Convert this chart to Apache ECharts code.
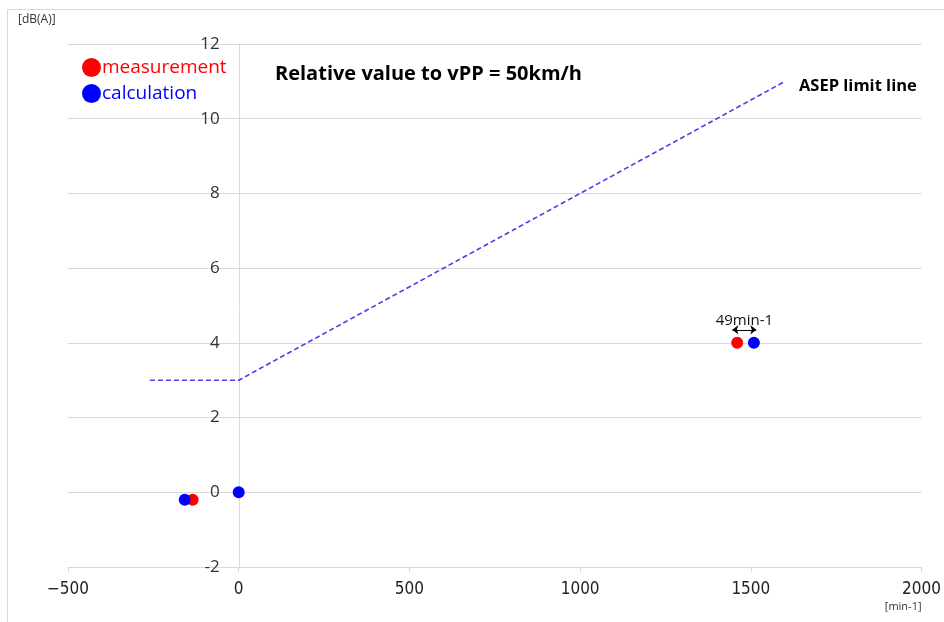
<!DOCTYPE html>
<html>
<head>
<meta charset="utf-8">
<script src="https://cdn.jsdelivr.net/npm/echarts@6/dist/echarts.min.js"></script>
<style>
  html, body { margin: 0; padding: 0; background: #fff; }
  #chart { width: 944px; height: 622px; }
</style>
</head>
<body>
<div id="chart"></div>
<script>
// values
const measurement = [[-135, -0.2], [1460, 4]]
const calculation = [[-158, -0.2], [0, 0], [1509, 4]]
const asepLimit = [[-260, 3], [0, 3], [1600, 11]]
const gapArrow = [[1446, 4.35], [1516, 4.35]]
const gapLabel = '49min-1'

const font = '"Open Sans", "Noto Sans", sans-serif'

let chart = echarts.init(document.getElementById('chart'), null, {renderer: 'canvas'})

chart.setOption({
    animation: false,
    textStyle: {fontFamily: font},
    title: {
        text: 'Relative value to vPP = 50km/h',
        left: 270, top: 59,
        textStyle: {fontSize: 20, fontWeight: 'bold', color: '#000', fontFamily: font}
    },
    legend: {
        orient: 'vertical',
        left: 77, top: 53,
        itemWidth: 19, itemHeight: 19, itemGap: 7,
        icon: 'circle',
        data: [
            {name: 'measurement', textStyle: {color: '#ff0000'}},
            {name: 'calculation', textStyle: {color: '#0000ff'}}
        ],
        textStyle: {fontSize: 19, fontFamily: font, padding: [0, 0, 0, -4]}
    },
    grid: {left: 68, right: 22, top: 44, bottom: 55},
    graphic: [
        {type: 'rect', shape: {x: 7.5, y: 9.5, width: 940, height: 620},
            style: {fill: 'none', stroke: '#d9d9d9', lineWidth: 1}, silent: true},
        {type: 'text', left: 18, top: 14,
            style: {text: '[dB(A)]', fontSize: 12, fill: '#333', fontFamily: font}}
    ],
    xAxis: {
        type: 'value', min: -500, max: 2000, interval: 500,
        name: '[min-1]', nameLocation: 'end',
        nameGap: 0,
        nameTextStyle: {fontSize: 11, color: '#333', align: 'right', verticalAlign: 'top', padding: [34, 0, 0, 0]},
        axisLine: {onZero: false, lineStyle: {color: '#d9d9d9'}},
        axisTick: {show: true, length: 5, lineStyle: {color: '#d9d9d9'}},
        axisLabel: {
            fontSize: 17, color: '#222', margin: 14,
            fontFamily: '"Liberation Sans Narrow", "DejaVu Sans Condensed", sans-serif',
            formatter: v => String(v).replace('-', '\u2212')
        },
        splitLine: {show: false}
    },
    yAxis: {
        type: 'value', min: -2, max: 12, interval: 2,
        offset: -170.8,
        axisLine: {show: true, onZero: false, lineStyle: {color: '#d9d9d9'}},
        axisTick: {show: false},
        axisLabel: {fontSize: 17, color: '#333', margin: 19},
        splitLine: {lineStyle: {color: '#d9d9d9'}}
    },
    series: [
        {
            name: 'ASEP limit line', type: 'line', data: asepLimit,
            symbol: 'none', z: 1,
            lineStyle: {color: '#5b35ea', width: 1.6, type: [5, 3]},
            endLabel: {
                show: true, formatter: 'ASEP limit line', offset: [6, 5],
                fontSize: 16.5, fontWeight: 'bold', color: '#000', fontFamily: font
            }
        },
        {
            name: 'measurement', type: 'scatter', data: measurement,
            symbolSize: 12, itemStyle: {color: '#ff0000', opacity: 1}, z: 3
        },
        {
            name: 'calculation', type: 'scatter', data: calculation,
            symbolSize: 12, itemStyle: {color: '#0000ff', opacity: 1}, z: 4,
            markLine: {
                silent: true, symbol: ['arrow', 'arrow'], symbolSize: [7, 6],
                lineStyle: {color: '#000', width: 1, type: 'solid'},
                label: {show: true, position: 'middle', formatter: gapLabel, fontSize: 15, color: '#111', distance: 2},
                data: [[{coord: gapArrow[0]}, {coord: gapArrow[1]}]]
            }
        }
    ]
})
</script>
</body>
</html>
